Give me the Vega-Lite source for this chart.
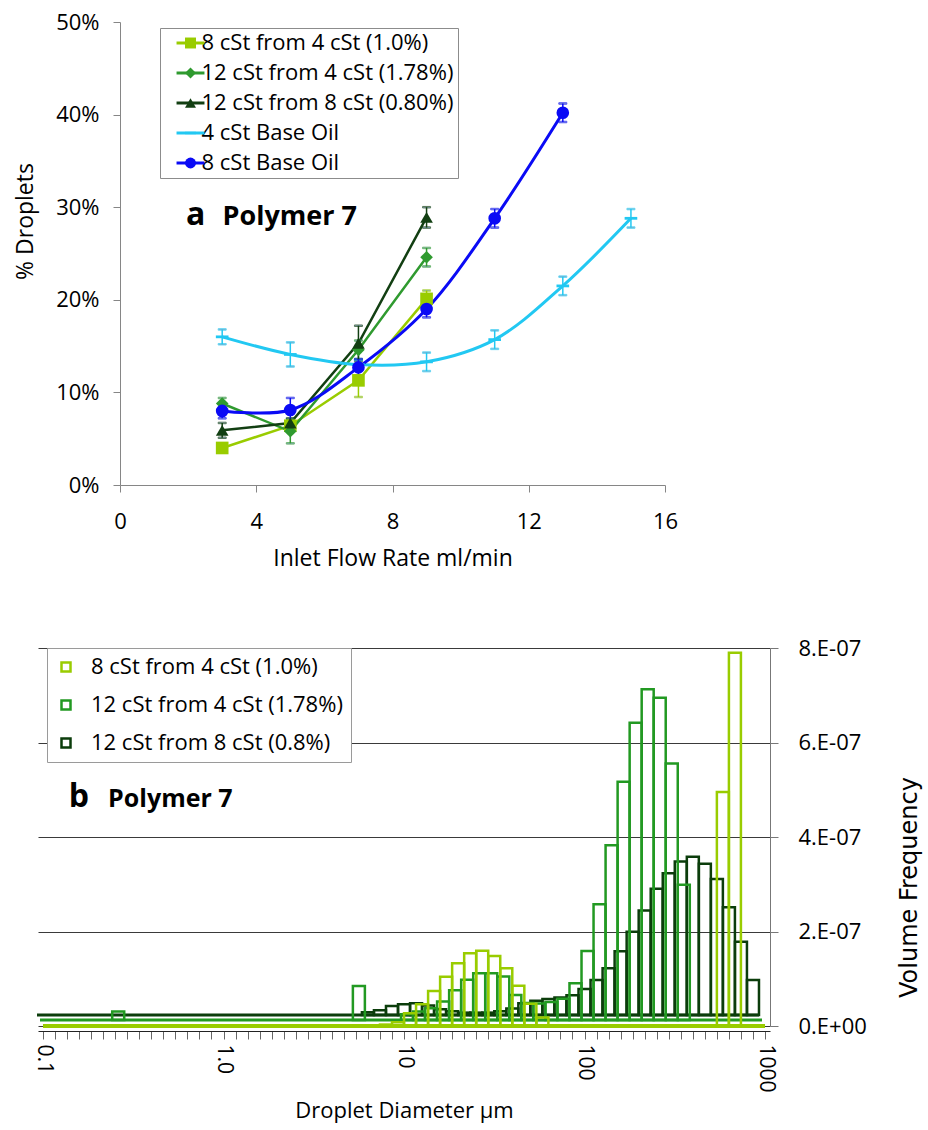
{
  "$schema": "https://vega.github.io/schema/vega-lite/v6.json",
  "background": "white",
  "padding": {"left": 14, "top": 11, "right": 5, "bottom": 5},
  "spacing": 67,
  "config": {"view": {"stroke": null}, "font": "Open Sans"},
  "resolve": {"scale": {"color": "independent", "shape": "independent", "stroke": "independent"}, "legend": {"color": "independent", "shape": "independent", "stroke": "independent"}},
  "datasets": {
    "top": [
      {"series": "8 cSt from 4 cSt (1.0%)", "x": 3, "y": 4.0, "err": 0.5},
      {"series": "8 cSt from 4 cSt (1.0%)", "x": 5, "y": 6.4, "err": 0.5},
      {"series": "8 cSt from 4 cSt (1.0%)", "x": 7, "y": 11.3, "err": 1.8},
      {"series": "8 cSt from 4 cSt (1.0%)", "x": 9, "y": 20.1, "err": 0.9},
      {"series": "12 cSt from 4 cSt (1.78%)", "x": 3, "y": 8.8, "err": 0.6},
      {"series": "12 cSt from 4 cSt (1.78%)", "x": 5, "y": 5.8, "err": 1.3},
      {"series": "12 cSt from 4 cSt (1.78%)", "x": 7, "y": 14.6, "err": 1.0},
      {"series": "12 cSt from 4 cSt (1.78%)", "x": 9, "y": 24.6, "err": 1.0},
      {"series": "12 cSt from 8 cSt (0.80%)", "x": 3, "y": 5.9, "err": 0.8},
      {"series": "12 cSt from 8 cSt (0.80%)", "x": 5, "y": 6.7, "err": 0.5},
      {"series": "12 cSt from 8 cSt (0.80%)", "x": 7, "y": 15.3, "err": 1.9},
      {"series": "12 cSt from 8 cSt (0.80%)", "x": 9, "y": 28.9, "err": 1.1},
      {"series": "4 cSt Base Oil", "x": 3, "y": 16.0, "err": 0.8},
      {"series": "4 cSt Base Oil", "x": 5, "y": 14.1, "err": 1.3},
      {"series": "4 cSt Base Oil", "x": 7, "y": 13.0, "err": 0.5},
      {"series": "4 cSt Base Oil", "x": 9, "y": 13.3, "err": 1.0},
      {"series": "4 cSt Base Oil", "x": 11, "y": 15.7, "err": 1.0},
      {"series": "4 cSt Base Oil", "x": 13, "y": 21.5, "err": 1.0},
      {"series": "4 cSt Base Oil", "x": 15, "y": 28.8, "err": 1.0},
      {"series": "8 cSt Base Oil", "x": 3, "y": 8.0, "err": 0.8},
      {"series": "8 cSt Base Oil", "x": 5, "y": 8.1, "err": 1.3},
      {"series": "8 cSt Base Oil", "x": 7, "y": 12.7, "err": 0.9},
      {"series": "8 cSt Base Oil", "x": 9, "y": 19.0, "err": 0.9},
      {"series": "8 cSt Base Oil", "x": 11, "y": 28.8, "err": 1.0},
      {"series": "8 cSt Base Oil", "x": 13, "y": 40.2, "err": 1.0}
    ],
    "hist": [
      {"series": "12 cSt from 8 cSt (0.8%)", "diameter": 6.813, "freq": 6e-9},
      {"series": "12 cSt from 8 cSt (0.8%)", "diameter": 7.943, "freq": 1.0e-8},
      {"series": "12 cSt from 8 cSt (0.8%)", "diameter": 9.261, "freq": 1.9e-8},
      {"series": "12 cSt from 8 cSt (0.8%)", "diameter": 10.80, "freq": 2.3e-8},
      {"series": "12 cSt from 8 cSt (0.8%)", "diameter": 12.59, "freq": 2.5e-8},
      {"series": "12 cSt from 8 cSt (0.8%)", "diameter": 14.68, "freq": 2.0e-8},
      {"series": "12 cSt from 8 cSt (0.8%)", "diameter": 17.11, "freq": 1.2e-8},
      {"series": "12 cSt from 8 cSt (0.8%)", "diameter": 19.95, "freq": 8e-9},
      {"series": "12 cSt from 8 cSt (0.8%)", "diameter": 23.26, "freq": 5e-9},
      {"series": "12 cSt from 8 cSt (0.8%)", "diameter": 27.12, "freq": 5e-9},
      {"series": "12 cSt from 8 cSt (0.8%)", "diameter": 31.62, "freq": 5e-9},
      {"series": "12 cSt from 8 cSt (0.8%)", "diameter": 36.87, "freq": 8e-9},
      {"series": "12 cSt from 8 cSt (0.8%)", "diameter": 42.99, "freq": 1.4e-8},
      {"series": "12 cSt from 8 cSt (0.8%)", "diameter": 50.12, "freq": 2.5e-8},
      {"series": "12 cSt from 8 cSt (0.8%)", "diameter": 58.43, "freq": 3.0e-8},
      {"series": "12 cSt from 8 cSt (0.8%)", "diameter": 68.13, "freq": 3.4e-8},
      {"series": "12 cSt from 8 cSt (0.8%)", "diameter": 79.43, "freq": 3.7e-8},
      {"series": "12 cSt from 8 cSt (0.8%)", "diameter": 92.61, "freq": 4.2e-8},
      {"series": "12 cSt from 8 cSt (0.8%)", "diameter": 107.98, "freq": 5.5e-8},
      {"series": "12 cSt from 8 cSt (0.8%)", "diameter": 125.89, "freq": 7.4e-8},
      {"series": "12 cSt from 8 cSt (0.8%)", "diameter": 146.78, "freq": 9.9e-8},
      {"series": "12 cSt from 8 cSt (0.8%)", "diameter": 171.13, "freq": 1.35e-7},
      {"series": "12 cSt from 8 cSt (0.8%)", "diameter": 199.53, "freq": 1.76e-7},
      {"series": "12 cSt from 8 cSt (0.8%)", "diameter": 232.63, "freq": 2.21e-7},
      {"series": "12 cSt from 8 cSt (0.8%)", "diameter": 271.23, "freq": 2.67e-7},
      {"series": "12 cSt from 8 cSt (0.8%)", "diameter": 316.23, "freq": 3.0e-7},
      {"series": "12 cSt from 8 cSt (0.8%)", "diameter": 368.7, "freq": 3.25e-7},
      {"series": "12 cSt from 8 cSt (0.8%)", "diameter": 429.9, "freq": 3.35e-7},
      {"series": "12 cSt from 8 cSt (0.8%)", "diameter": 501.2, "freq": 3.2e-7},
      {"series": "12 cSt from 8 cSt (0.8%)", "diameter": 584.3, "freq": 2.88e-7},
      {"series": "12 cSt from 8 cSt (0.8%)", "diameter": 681.3, "freq": 2.28e-7},
      {"series": "12 cSt from 8 cSt (0.8%)", "diameter": 794.3, "freq": 1.55e-7},
      {"series": "12 cSt from 8 cSt (0.8%)", "diameter": 926.1, "freq": 7.4e-8},
      {"series": "12 cSt from 4 cSt (1.78%)", "diameter": 0.2712, "freq": 1.8e-8},
      {"series": "12 cSt from 4 cSt (1.78%)", "diameter": 5.843, "freq": 7.2e-8},
      {"series": "12 cSt from 4 cSt (1.78%)", "diameter": 10.80, "freq": 1.2e-8},
      {"series": "12 cSt from 4 cSt (1.78%)", "diameter": 12.59, "freq": 1.8e-8},
      {"series": "12 cSt from 4 cSt (1.78%)", "diameter": 14.68, "freq": 2.5e-8},
      {"series": "12 cSt from 4 cSt (1.78%)", "diameter": 17.11, "freq": 3.9e-8},
      {"series": "12 cSt from 4 cSt (1.78%)", "diameter": 19.95, "freq": 6.3e-8},
      {"series": "12 cSt from 4 cSt (1.78%)", "diameter": 23.26, "freq": 8.5e-8},
      {"series": "12 cSt from 4 cSt (1.78%)", "diameter": 27.12, "freq": 9.9e-8},
      {"series": "12 cSt from 4 cSt (1.78%)", "diameter": 31.62, "freq": 9.9e-8},
      {"series": "12 cSt from 4 cSt (1.78%)", "diameter": 36.87, "freq": 9.2e-8},
      {"series": "12 cSt from 4 cSt (1.78%)", "diameter": 42.99, "freq": 5.3e-8},
      {"series": "12 cSt from 4 cSt (1.78%)", "diameter": 50.12, "freq": 3.6e-8},
      {"series": "12 cSt from 4 cSt (1.78%)", "diameter": 58.43, "freq": 3.5e-8},
      {"series": "12 cSt from 4 cSt (1.78%)", "diameter": 68.13, "freq": 3.8e-8},
      {"series": "12 cSt from 4 cSt (1.78%)", "diameter": 79.43, "freq": 4.5e-8},
      {"series": "12 cSt from 4 cSt (1.78%)", "diameter": 92.61, "freq": 7.8e-8},
      {"series": "12 cSt from 4 cSt (1.78%)", "diameter": 107.98, "freq": 1.46e-7},
      {"series": "12 cSt from 4 cSt (1.78%)", "diameter": 125.89, "freq": 2.45e-7},
      {"series": "12 cSt from 4 cSt (1.78%)", "diameter": 146.78, "freq": 3.7e-7},
      {"series": "12 cSt from 4 cSt (1.78%)", "diameter": 171.13, "freq": 5.04e-7},
      {"series": "12 cSt from 4 cSt (1.78%)", "diameter": 199.53, "freq": 6.29e-7},
      {"series": "12 cSt from 4 cSt (1.78%)", "diameter": 232.63, "freq": 7.0e-7},
      {"series": "12 cSt from 4 cSt (1.78%)", "diameter": 271.23, "freq": 6.82e-7},
      {"series": "12 cSt from 4 cSt (1.78%)", "diameter": 316.23, "freq": 5.43e-7},
      {"series": "12 cSt from 4 cSt (1.78%)", "diameter": 368.7, "freq": 2.86e-7},
      {"series": "8 cSt from 4 cSt (1.0%)", "diameter": 7.943, "freq": 3e-9},
      {"series": "8 cSt from 4 cSt (1.0%)", "diameter": 9.261, "freq": 8e-9},
      {"series": "8 cSt from 4 cSt (1.0%)", "diameter": 10.80, "freq": 2.7e-8},
      {"series": "8 cSt from 4 cSt (1.0%)", "diameter": 12.59, "freq": 4.6e-8},
      {"series": "8 cSt from 4 cSt (1.0%)", "diameter": 14.68, "freq": 7.4e-8},
      {"series": "8 cSt from 4 cSt (1.0%)", "diameter": 17.11, "freq": 1.04e-7},
      {"series": "8 cSt from 4 cSt (1.0%)", "diameter": 19.95, "freq": 1.33e-7},
      {"series": "8 cSt from 4 cSt (1.0%)", "diameter": 23.26, "freq": 1.54e-7},
      {"series": "8 cSt from 4 cSt (1.0%)", "diameter": 27.12, "freq": 1.59e-7},
      {"series": "8 cSt from 4 cSt (1.0%)", "diameter": 31.62, "freq": 1.48e-7},
      {"series": "8 cSt from 4 cSt (1.0%)", "diameter": 36.87, "freq": 1.22e-7},
      {"series": "8 cSt from 4 cSt (1.0%)", "diameter": 42.99, "freq": 8.5e-8},
      {"series": "8 cSt from 4 cSt (1.0%)", "diameter": 50.12, "freq": 4.7e-8},
      {"series": "8 cSt from 4 cSt (1.0%)", "diameter": 58.43, "freq": 1.8e-8},
      {"series": "8 cSt from 4 cSt (1.0%)", "diameter": 584.3, "freq": 4.95e-7},
      {"series": "8 cSt from 4 cSt (1.0%)", "diameter": 681.3, "freq": 7.9e-7}
    ]
  },
  "vconcat": [
    {
      "width": 627,
      "height": 463,
      "data": {"name": "top"},
      "encoding": {
        "x": {
          "field": "x", "type": "quantitative",
          "scale": {"domain": [0, 16], "range": [82, 627], "nice": false, "zero": false},
          "axis": {
            "values": [0, 4, 8, 12, 16], "grid": false,
            "title": "Inlet Flow Rate ml/min", "titleFont": "Open Sans", "titleFontSize": 23,
            "titleFontWeight": "normal", "titleColor": "#000", "titlePadding": 15,
            "labelFont": "Open Sans", "labelFontSize": 22, "labelColor": "#000", "labelPadding": 19,
            "labelFlush": false, "tickSize": 7, "tickColor": "#868686", "domainColor": "#868686"
          }
        },
        "y": {
          "field": "y", "type": "quantitative",
          "scale": {"domain": [0, 50], "nice": false},
          "axis": {
            "values": [0, 10, 20, 30, 40, 50], "labelExpr": "datum.value + '%'", "grid": false,
            "offset": -82,
            "title": "% Droplets", "titleFont": "Open Sans", "titleFontSize": 23,
            "titleFontWeight": "normal", "titleColor": "#000", "titlePadding": 18, "titleY": 199,
            "labelFont": "Open Sans", "labelFontSize": 22, "labelColor": "#000", "labelPadding": 14,
            "tickSize": 7, "tickColor": "#868686", "domainColor": "#868686"
          }
        },
        "stroke": {
          "field": "series", "type": "nominal",
          "scale": {
            "domain": ["8 cSt from 4 cSt (1.0%)", "12 cSt from 4 cSt (1.78%)", "12 cSt from 8 cSt (0.80%)", "4 cSt Base Oil", "8 cSt Base Oil", "none"],
            "range": ["#99cc00", "#2f9a2f", "#123f12", "#22c8f2", "#0a0af5", "transparent"]
          },
          "legend": {
            "title": null, "orient": "none", "legendX": 122, "legendY": 6, "direction": "vertical",
            "values": ["8 cSt from 4 cSt (1.0%)", "12 cSt from 4 cSt (1.78%)", "12 cSt from 8 cSt (0.80%)", "4 cSt Base Oil", "8 cSt Base Oil"],
            "strokeColor": "transparent", "fillColor": "transparent", "padding": 4, "zindex": 2,
            "symbolType": "M-2.55,0H2.55", "symbolSize": 120, "symbolStrokeWidth": 3, "symbolOpacity": 1, "symbolOffset": 15.5,
            "labelExpr": "' '", "labelFont": "Open Sans", "labelFontSize": 22, "labelOffset": 0, "rowPadding": 8
          }
        }
      },
      "layer": [
        {
          "transform": [{"filter": "datum.series != '4 cSt Base Oil' && datum.series != '8 cSt Base Oil'"}],
          "mark": {"type": "line", "strokeWidth": 2.5}
        },
        {
          "transform": [{"filter": "datum.series == '4 cSt Base Oil' || datum.series == '8 cSt Base Oil'"}],
          "mark": {"type": "line", "strokeWidth": 3, "interpolate": "catmull-rom"}
        },
        {
          "mark": {"type": "errorbar", "ticks": {"size": 8}, "thickness": 1.5},
          "encoding": {"yError": {"field": "err"}}
        },
        {
          "mark": {"type": "point", "filled": true, "opacity": 1, "size": 160},
          "encoding": {
            "stroke": {"value": null},
            "color": {
              "field": "series", "type": "nominal",
              "scale": {
                "domain": ["8 cSt from 4 cSt (1.0%)", "12 cSt from 4 cSt (1.78%)", "12 cSt from 8 cSt (0.80%)", "4 cSt Base Oil", "8 cSt Base Oil"],
                "range": ["#99cc00", "#2f9a2f", "#123f12", "#22c8f2", "#0a0af5"]
              },
              "legend": {
                "title": null, "orient": "none", "legendX": 122, "legendY": 6, "direction": "vertical",
                "strokeColor": "#8c8c8c", "fillColor": "white", "padding": 4, "zindex": 1,
                "symbolSize": 120, "symbolStrokeWidth": 0, "symbolOpacity": 1, "symbolOffset": 15.5,
                "labelExpr": "datum.label + '    '",
                "labelFont": "Open Sans", "labelFontSize": 22, "labelColor": "#000",
                "labelOffset": 0, "rowPadding": 8, "labelLimit": 400
              }
            },
            "shape": {
              "field": "series", "type": "nominal",
              "scale": {
                "domain": ["8 cSt from 4 cSt (1.0%)", "12 cSt from 4 cSt (1.78%)", "12 cSt from 8 cSt (0.80%)", "4 cSt Base Oil", "8 cSt Base Oil"],
                "range": ["square", "diamond", "triangle-up", "M-1,-0.22H1V0.22H-1Z", "circle"]
              },
              "legend": {
                "title": null, "orient": "none", "legendX": 122, "legendY": 6, "direction": "vertical",
                "strokeColor": "#8c8c8c", "fillColor": "white", "padding": 4, "zindex": 1,
                "symbolSize": 120, "symbolStrokeWidth": 0, "symbolOpacity": 1, "symbolOffset": 15.5,
                "labelExpr": "datum.label + '    '",
                "labelFont": "Open Sans", "labelFontSize": 22, "labelColor": "#000",
                "labelOffset": 0, "rowPadding": 8, "labelLimit": 400
              }
            }
          }
        },
        {
          "transform": [{"filter": "datum.series == '8 cSt Base Oil' && datum.x == 3"}],
          "mark": {"type": "text", "text": "a", "font": "Open Sans", "fontSize": 32, "fontWeight": "bold", "align": "left", "baseline": "alphabetic"},
          "encoding": {"x": {"datum": 1.94, "type": "quantitative"}, "y": {"datum": 28.1, "type": "quantitative"}, "stroke": {"value": null}, "color": {"value": "#000"}}
        },
        {
          "transform": [{"filter": "datum.series == '8 cSt Base Oil' && datum.x == 3"}],
          "mark": {"type": "text", "text": "Polymer 7", "font": "Open Sans", "fontSize": 27, "fontWeight": "bold", "align": "left", "baseline": "alphabetic"},
          "encoding": {"x": {"datum": 3.01, "type": "quantitative"}, "y": {"datum": 28.1, "type": "quantitative"}, "stroke": {"value": null}, "color": {"value": "#000"}}
        }
      ]
    },
    {
      "width": 732,
      "height": 378,
      "data": {"name": "hist"},
      "encoding": {
        "x": {
          "field": "diameter", "type": "quantitative",
          "scale": {"type": "log", "domain": [0.1, 1000], "nice": false},
          "axis": {
            "values": [0.1, 0.11659, 0.13594, 0.15849, 0.18478, 0.21544, 0.25119, 0.29286, 0.34145, 0.39811, 0.46416, 0.54117, 0.63096, 0.73564, 0.8577, 1, 1.1659, 1.3594, 1.5849, 1.8478, 2.1544, 2.5119, 2.9286, 3.4145, 3.9811, 4.6416, 5.4117, 6.3096, 7.3564, 8.577, 10, 11.659, 13.594, 15.849, 18.478, 21.544, 25.119, 29.286, 34.145, 39.811, 46.416, 54.117, 63.096, 73.564, 85.77, 100, 116.59, 135.94, 158.49, 184.78, 215.44, 251.19, 292.86, 341.45, 398.11, 464.16, 541.17, 630.96, 735.64, 857.7, 1000],
            "labelExpr": "datum.value == 0.1 ? '0.1' : datum.value == 1 ? '1.0' : datum.value == 10 ? '10' : datum.value == 100 ? '100' : datum.value == 1000 ? '1000' : ''",
            "labelAngle": 90, "labelOverlap": false, "labelFlush": false,
            "labelFont": "Open Sans", "labelFontSize": 21, "labelColor": "#000", "labelPadding": 5,
            "tickSize": 8, "tickColor": "#666", "domainColor": "#222", "offset": 5, "grid": false,
            "title": "Droplet Diameter µm", "titleFont": "Open Sans", "titleFontSize": 22,
            "titleFontWeight": "normal", "titleColor": "#000", "titlePadding": 8
          }
        },
        "y": {
          "field": "freq", "type": "quantitative",
          "scale": {"domain": [0, 8e-7], "nice": false},
          "axis": {
            "orient": "right", "values": [0, 2e-7, 4e-7, 6e-7, 8e-7],
            "labelExpr": "datum.value == 0 ? '0.E+00' : format(datum.value * 1e7, 'd') + '.E-07'",
            "grid": true, "gridColor": "#3a3a3a", "gridWidth": 1,
            "domainColor": "#777", "tickColor": "#777", "tickSize": 8,
            "labelFont": "Open Sans", "labelFontSize": 22, "labelColor": "#000", "labelPadding": 20,
            "title": "Volume Frequency", "titleFont": "DejaVu Sans", "titleFontSize": 24,
            "titleFontWeight": "normal", "titleColor": "#000", "titleAngle": 270, "titleY": 239, "titlePadding": 55
          }
        },
        "color": {
          "field": "series", "type": "nominal",
          "scale": {"domain": ["8 cSt from 4 cSt (1.0%)", "12 cSt from 4 cSt (1.78%)", "12 cSt from 8 cSt (0.8%)"], "range": ["#99cc00", "#229922", "#0b3d0b"]},
          "legend": {
            "title": null, "orient": "none", "legendX": 9, "legendY": 0, "direction": "vertical",
            "strokeColor": "#9a9a9a", "fillColor": "white", "padding": 8,
            "symbolType": "square", "symbolSize": 81, "symbolStrokeWidth": 2.5,
            "labelFont": "Open Sans", "labelFontSize": 22, "labelColor": "#000",
            "labelOffset": 14, "rowPadding": 16, "labelLimit": 400
          }
        }
      },
      "layer": [
        {
          "transform": [{"filter": "datum.series == '8 cSt from 4 cSt (1.0%)' && datum.diameter == 681.3"}],
          "mark": {"type": "rule", "strokeWidth": 3, "xOffset": -6, "x2Offset": -6, "yOffset": -11},
          "encoding": {"x": {"datum": 0.1, "type": "quantitative"}, "x2": {"datum": 1000}, "y": {"datum": 0, "type": "quantitative"}, "color": {"value": "#0b3d0b"}}
        },
        {
          "transform": [{"filter": "datum.series == '12 cSt from 8 cSt (0.8%)'"}],
          "mark": {"type": "bar", "filled": false, "strokeWidth": 2.5, "size": 12, "orient": "vertical", "xOffset": -6, "yOffset": -11, "y2Offset": -11}
        },
        {
          "transform": [{"filter": "datum.series == '8 cSt from 4 cSt (1.0%)' && datum.diameter == 681.3"}],
          "mark": {"type": "rule", "strokeWidth": 3, "xOffset": -3, "x2Offset": -3, "yOffset": -6},
          "encoding": {"x": {"datum": 0.1, "type": "quantitative"}, "x2": {"datum": 1000}, "y": {"datum": 0, "type": "quantitative"}, "color": {"value": "#229922"}}
        },
        {
          "transform": [{"filter": "datum.series == '12 cSt from 4 cSt (1.78%)'"}],
          "mark": {"type": "bar", "filled": false, "strokeWidth": 2.5, "size": 12, "orient": "vertical", "xOffset": -3, "yOffset": -6, "y2Offset": -6}
        },
        {
          "transform": [{"filter": "datum.series == '8 cSt from 4 cSt (1.0%)' && datum.diameter == 681.3"}],
          "mark": {"type": "rule", "strokeWidth": 4},
          "encoding": {"x": {"datum": 0.1, "type": "quantitative"}, "x2": {"datum": 1000}, "y": {"datum": 0, "type": "quantitative"}, "color": {"value": "#99cc00"}}
        },
        {
          "transform": [{"filter": "datum.series == '8 cSt from 4 cSt (1.0%)'"}],
          "mark": {"type": "bar", "filled": false, "strokeWidth": 2.5, "size": 12, "orient": "vertical"}
        },
        {
          "transform": [{"filter": "datum.series == '8 cSt from 4 cSt (1.0%)' && datum.diameter == 681.3"}],
          "mark": {"type": "text", "text": "b", "font": "Open Sans", "fontSize": 32, "fontWeight": "bold", "align": "left", "baseline": "alphabetic"},
          "encoding": {"x": {"datum": 0.1387, "type": "quantitative"}, "y": {"datum": 4.63e-7, "type": "quantitative"}, "color": {"value": "#000"}}
        },
        {
          "transform": [{"filter": "datum.series == '8 cSt from 4 cSt (1.0%)' && datum.diameter == 681.3"}],
          "mark": {"type": "text", "text": "Polymer 7", "font": "Open Sans", "fontSize": 25, "fontWeight": "bold", "align": "left", "baseline": "alphabetic"},
          "encoding": {"x": {"datum": 0.2295, "type": "quantitative"}, "y": {"datum": 4.63e-7, "type": "quantitative"}, "color": {"value": "#000"}}
        }
      ]
    }
  ]
}
